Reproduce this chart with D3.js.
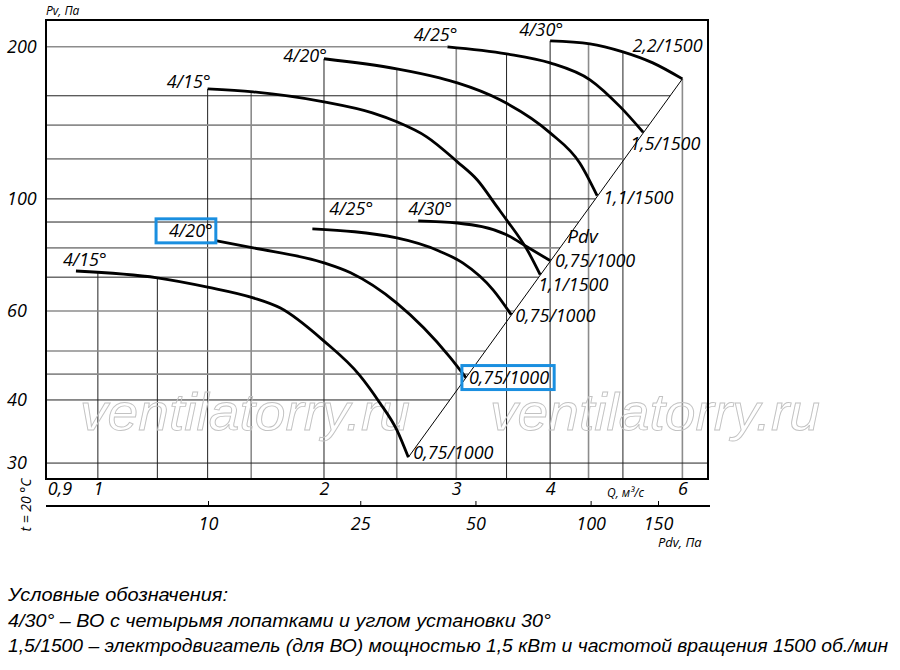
<!DOCTYPE html>
<html>
<head>
<meta charset="utf-8">
<script src="https://cdn.jsdelivr.net/npm/d3@7"></script>
<style>
  body { margin: 0; background: #fff; }
  text { font-family: "Open Sans", "Liberation Sans", sans-serif; font-style: italic; }
</style>
</head>
<body>
<svg id="chart" width="900" height="670"></svg>
<script>
// fan curves, points: [Q m3/s, Pv Pa]
var c15hi = [[1.40,165.1],[1.61,162.9],[2.00,155.6],[2.32,148.0],[2.50,142.1],[2.74,132.7],[3.01,118.4],[3.20,109.0],[3.40,96.4],[3.50,90.9],[3.73,79.2],[3.88,70.8]]
var c20hi = [[2.00,189.4],[2.50,180.9],[2.85,173.6],[3.01,169.7],[3.43,157.1],[4.00,135.1],[4.38,117.8],[4.62,101.5]]
var c25hi = [[2.92,200.0],[3.50,193.7],[4.00,185.9],[4.52,172.1],[4.96,152.1],[5.32,135.5]]
var c30hi = [[4.00,205.5],[4.52,202.8],[5.00,195.5],[5.48,185.9],[6.00,172.8]]
var c15lo = [[0.935,72.0],[1.20,69.8],[1.40,66.9],[1.61,63.7],[1.75,60.8],[2.00,52.3],[2.23,44.8],[2.37,39.6],[2.50,34.9],[2.59,30.8]]
var c20lo = [[1.44,82.6],[1.61,80.0],[2.00,74.7],[2.17,71.4],[2.50,62.2],[2.94,48.7],[3.09,44.3]]
var c25lo = [[1.93,87.2],[2.50,83.7],[2.85,78.8],[3.06,74.7],[3.36,66.0],[3.55,59.0]]
var c30lo = [[2.67,90.5],[3.01,89.6],[3.50,84.9],[3.73,80.3],[4.00,75.5]]

// dynamic pressure line Pdv
var pdvLine = [[2.59,30.8],[6.00,172.8]]

var angleNames = ["4/15°","4/20°","4/25°","4/30°","4/15°","4/20°","4/25°","4/30°"]
var motorNames = ["1,1/1500","1,1/1500","1,5/1500","2,2/1500","0,75/1000","0,75/1000","0,75/1000","0,75/1000"]

// grid and ticks
var qGrid = [1,1.2,1.4,1.6,2,2.5,3,3.5,4,4.5,5,6]
var pGrid = [30,40,45,50,60,70,80,90,100,120,140,160,200]
var qTicks = [0.9,1,2,3,4,6]
var pTicks = [30,40,60,100,200]
var pdvTicks = [10,25,50,100,150]

var legendLines = [
  "Условные обозначения:",
  "4/30° – ВО с четырьмя лопатками и углом установки 30°",
  "1,5/1500 – электродвигатель (для ВО) мощностью 1,5 кВт и частотой вращения 1500 об./мин"
]

var allCurves = [c15hi, c20hi, c25hi, c30hi, c15lo, c20lo, c25lo, c30lo]

var svg = d3.select("#chart")
var L = 46, R = 708, T = 20, B = 479

var x = d3.scaleLog().domain([0.853, 6.49]).range([L, R])
var y = d3.scaleLog().domain([27.9, 226]).range([B, T])
var pdv = d3.scaleLog().domain([10, 150]).range([208, 658])

var fmt = function(d) { return String(d).replace(".", ",") }

// value of a curve at q (log-log interpolation), null outside
function curveAt(c, q) {
  if (q < c[0][0] - 1e-9 || q > c[c.length-1][0] + 1e-9) return null
  for (var i = 1; i < c.length; i++) {
    if (q <= c[i][0] + 1e-9) {
      var t = (Math.log(q) - Math.log(c[i-1][0])) / (Math.log(c[i][0]) - Math.log(c[i-1][0]))
      return Math.exp(Math.log(c[i-1][1]) + t * (Math.log(c[i][1]) - Math.log(c[i-1][1])))
    }
  }
  return c[c.length-1][1]
}
// Q on the Pdv line for pressure p
function pdvQ(p) {
  var a = pdvLine[0], b = pdvLine[1]
  var t = (Math.log(p) - Math.log(a[1])) / (Math.log(b[1]) - Math.log(a[1]))
  return Math.exp(Math.log(a[0]) + t * (Math.log(b[0]) - Math.log(a[0])))
}

var greyQ = [1.6, 2.5, 3, 4.5, 6]
var greyP = [200, 140, 120, 80, 60, 50, 45]

var grid = svg.append("g")
// vertical lines stop at the highest curve
qGrid.forEach(function(q) {
  var top = null
  allCurves.forEach(function(c) {
    var v = curveAt(c, q)
    if (v != null && (top == null || v > top)) top = v
  })
  var grey = greyQ.indexOf(q) >= 0
  grid.append("line")
    .attr("x1", x(q)).attr("x2", x(q))
    .attr("y1", B).attr("y2", top == null ? T : y(top))
    .attr("stroke", grey ? "#8c8c8c" : "#222")
    .attr("stroke-width", grey ? 1.6 : 1)
})
// horizontal lines stop at the Pdv line
pGrid.forEach(function(p) {
  var xe
  if (p < pdvLine[0][1]) xe = R
  else if (p <= pdvLine[1][1]) xe = x(pdvQ(p))
  else {
    var starts = allCurves.filter(function(c) { return c[0][1] >= p }).map(function(c) { return c[0][0] })
    xe = starts.length ? x(d3.min(starts)) : R
  }
  var grey = greyP.indexOf(p) >= 0
  grid.append("line")
    .attr("x1", L).attr("x2", xe)
    .attr("y1", y(p)).attr("y2", y(p))
    .attr("stroke", grey ? "#8c8c8c" : "#222")
    .attr("stroke-width", grey ? 1.6 : 1)
})

// watermark
;[80, 490].forEach(function(wx) {
  svg.append("text")
    .attr("x", wx).attr("y", 430)
    .attr("textLength", 330).attr("lengthAdjust", "spacingAndGlyphs")
    .style("font-family", "'Liberation Sans', Arial, sans-serif")
    .style("font-size", "52px")
    .attr("fill", "none").attr("stroke", "#c2c2c2").attr("stroke-width", 0.9)
    .text("ventilatorry.ru")
})

// Pdv line
svg.append("line")
  .attr("x1", x(pdvLine[0][0])).attr("y1", y(pdvLine[0][1]))
  .attr("x2", x(pdvLine[1][0])).attr("y2", y(pdvLine[1][1]))
  .attr("stroke", "#000").attr("stroke-width", 1)

// curves
var line = d3.line().x(function(d) { return x(d[0]) }).y(function(d) { return y(d[1]) }).curve(d3.curveMonotoneX)
svg.append("g").selectAll("path").data(allCurves).enter().append("path")
  .attr("d", line)
  .attr("fill", "none").attr("stroke", "#000").attr("stroke-width", 2.8)

// frame
svg.append("rect").attr("x", L).attr("y", T).attr("width", R - L).attr("height", B - T)
  .attr("fill", "none").attr("stroke", "#000").attr("stroke-width", 2)

// axes
var gy = svg.append("g").attr("transform", "translate(" + L + ",0)")
  .call(d3.axisLeft(y).tickValues(pTicks).tickSize(0).tickFormat(fmt))
gy.select(".domain").remove()
gy.selectAll("text").attr("x", 7 - L).attr("text-anchor", "start")
  .style("font-size", "18px").attr("fill", "#000")

var gx = svg.append("g").attr("transform", "translate(0," + B + ")")
  .call(d3.axisBottom(x).tickValues(qTicks).tickSize(0).tickPadding(3).tickFormat(fmt))
gx.select(".domain").remove()
gx.selectAll("text").style("font-size", "18px").attr("fill", "#000")
  .attr("dx", function(d) { return d < 1 ? -4 : 0 })

var pdvY = 506
svg.append("line").attr("x1", L).attr("x2", R + 2).attr("y1", pdvY).attr("y2", pdvY)
  .attr("stroke", "#000").attr("stroke-width", 2)
var gp = svg.append("g").attr("transform", "translate(0," + pdvY + ")")
  .call(d3.axisBottom(pdv).tickValues(pdvTicks).tickSizeInner(-5).tickSizeOuter(0).tickPadding(11).tickFormat(fmt))
gp.select(".domain").remove()
gp.selectAll("line").attr("stroke", "#000")
gp.selectAll("text").style("font-size", "18px").attr("fill", "#000")

// axis titles
function label(tx, ty, s, size, anchor) {
  return svg.append("text").attr("x", tx).attr("y", ty)
    .attr("text-anchor", anchor || "start").style("font-size", size + "px").text(s)
}
label(46, 15, "Pv, Па", 12)
label(607, 497, "Q, м³/с", 12)
label(658, 547, "Pdv, Па", 13)
svg.append("text").attr("transform", "translate(31,505) rotate(-90)")
  .attr("text-anchor", "middle").style("font-size", "14px").text("t = 20 °C")

// curve labels, offsets from curve start / end in px
var angleOff = [[3,-1,"end"],[3,3,"end"],[10,-6,"end"],[13,-5,"end"],[-13,-5,"start"],[-4,-4,"end"],[17,-14,"start"],[-10,-6,"start"]]
var motorOff = [[-2,16],[6,8],[-13,18],[-50,-27],[5,2],[3,6],[4,7],[5,6]]
var boxed = []
allCurves.forEach(function(c, i) {
  var s = c[0], e = c[c.length-1]
  var a = label(x(s[0]) + angleOff[i][0], y(s[1]) + angleOff[i][1], angleNames[i], 18, angleOff[i][2])
  var m = label(x(e[0]) + motorOff[i][0], y(e[1]) + motorOff[i][1], motorNames[i], 18)
  if (i == 5) { boxed.push([a, 13, 3]); boxed.push([m, 7, 5]) }
})
var pq = 4.1
label(x(pq) + 9, y(curveAt(pdvLine, pq)) - 7, "Pdv", 19)

// blue highlight boxes
boxed.forEach(function(b) {
  var bb = b[0].node().getBBox()
  svg.append("rect")
    .attr("x", bb.x - b[1]).attr("y", bb.y + 1)
    .attr("width", bb.width + b[1] + b[2]).attr("height", bb.height)
    .attr("fill", "none").attr("stroke", "#1a8fe0").attr("stroke-width", 3)
})

// legend
var legendW = [220, 543, 880]
legendLines.forEach(function(s, i) {
  svg.append("text").attr("x", 8).attr("y", 601 + i * 25.5)
    .attr("textLength", legendW[i]).attr("lengthAdjust", "spacingAndGlyphs")
    .style("font-family", "'Liberation Sans Narrow', 'Liberation Sans', sans-serif")
    .style("font-size", "18px").text(s)
})
</script>
</body>
</html>
